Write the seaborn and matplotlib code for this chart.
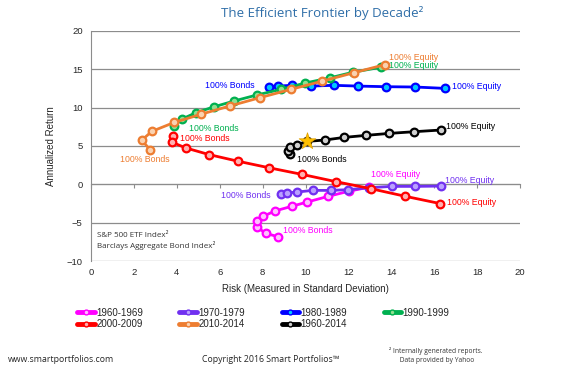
import matplotlib
matplotlib.use("Agg")
import matplotlib.pyplot as plt
import seaborn as sns

# risk (std dev) and annualized return, from 100% bonds to 100% equity
risk_1960s = [8.7, 8.14, 7.72, 7.72, 8.03, 8.58, 9.36, 10.08, 11.06, 12.0, 12.97]
ret_1960s = [-6.8, -6.38, -5.52, -4.79, -4.14, -3.45, -2.85, -2.29, -1.55, -0.9, -0.35]

risk_1970s = [8.84, 9.12, 9.59, 10.33, 11.17, 11.97, 12.97, 14.02, 15.1, 16.32]
ret_1970s = [-1.29, -1.12, -1.0, -0.78, -0.78, -0.69, -0.43, -0.26, -0.26, -0.22]

risk_1980s = [8.3, 8.7, 9.36, 10.24, 11.3, 12.46, 13.75, 15.1, 16.5]
ret_1980s = [12.68, 12.8, 12.9, 12.8, 12.9, 12.8, 12.72, 12.68, 12.5]

risk_1990s = [3.88, 4.23, 4.9, 5.73, 6.68, 7.72, 8.86, 9.98, 11.14, 12.2, 13.52]
ret_1990s = [7.63, 8.5, 9.35, 10.1, 10.87, 11.64, 12.38, 13.2, 13.88, 14.6, 15.26]

risk_2000s = [3.84, 3.79, 4.41, 5.5, 6.84, 8.3, 9.85, 11.42, 13.04, 14.64, 16.27]
ret_2000s = [6.34, 5.47, 4.75, 3.88, 3.02, 2.16, 1.29, 0.35, -0.56, -1.55, -2.5]

risk_2010s = [2.75, 2.36, 2.83, 3.87, 5.13, 6.48, 7.88, 9.32, 10.78, 12.23, 13.7]
ret_2010s = [4.53, 5.75, 6.9, 8.06, 9.14, 10.22, 11.3, 12.38, 13.45, 14.53, 15.6]

risk_all = [9.28, 9.17, 9.25, 9.59, 10.08, 10.9, 11.8, 12.8, 13.9, 15.06, 16.3]
ret_all = [3.97, 4.4, 4.83, 5.17, 5.6, 5.78, 6.12, 6.38, 6.64, 6.86, 7.08]

star_risk = [10.08]
star_ret = [5.6]

series = [
    ("1960-1969", risk_1960s, ret_1960s, "#ff00ff", "#ffc0ff"),
    ("1970-1979", risk_1970s, ret_1970s, "#7030f0", "#b9a0ff"),
    ("1980-1989", risk_1980s, ret_1980s, "#0000ff", "#00c8ff"),
    ("1990-1999", risk_1990s, ret_1990s, "#00b050", "#90e090"),
    ("2000-2009", risk_2000s, ret_2000s, "#ff0000", "#ffb0b0"),
    ("2010-2014", risk_2010s, ret_2010s, "#ed7d31", "#fad2b0"),
    ("1960-2014", risk_all, ret_all, "#000000", "#d0d0d0"),
]

# label text, x, y, colour, alignment
labels = [
    ("100% Equity", 13.9, 16.5, "#ed7d31", "left"),
    ("100% Equity", 13.9, 15.5, "#00b050", "left"),
    ("100% Bonds", 7.6, 12.9, "#0000ff", "right"),
    ("100% Equity", 16.8, 12.7, "#0000ff", "left"),
    ("100% Bonds", 4.55, 7.3, "#00b050", "left"),
    ("100% Bonds", 4.15, 6.0, "#ff0000", "left"),
    ("100% Bonds", 1.35, 3.2, "#ed7d31", "left"),
    ("100% Bonds", 9.6, 3.3, "#000000", "left"),
    ("100% Equity", 16.55, 7.5, "#000000", "left"),
    ("100% Bonds", 8.35, -1.5, "#7030f0", "right"),
    ("100% Equity", 16.5, 0.5, "#7030f0", "left"),
    ("100% Equity", 16.6, -2.3, "#ff0000", "left"),
    ("100% Bonds", 8.95, -5.95, "#ff00ff", "left"),
    ("100% Equity", 13.05, 1.3, "#ff00ff", "left"),
]

sns.set_style("white")
plt.rcParams["font.family"] = ["Liberation Sans", "DejaVu Sans"]

fig = plt.figure(figsize=(5.8, 3.71), dpi=100)
ax = fig.add_axes([0.157, 0.296, 0.740, 0.621])

handles = []
for name, xs, ys, col, fill in series:
    sns.lineplot(x=xs, y=ys, sort=False, estimator=None, ax=ax, color=col,
                 lw=2, marker="o", ms=5.5, mfc=fill, mec=col, mew=1.6,
                 legend=False)
    handles.append(ax.lines[-1])

ax.scatter(star_risk, star_ret, marker="*", s=160, color="#ffc000",
           edgecolor="#e0a000", linewidth=0.5, zorder=5)

for txt, x, y, col, ha in labels:
    ax.text(x, y, txt, color=col, fontsize=6.3, ha=ha, va="center")

ax.text(0.3, -6.6, "S&P 500 ETF Index\u00b2", fontsize=5.8, color="#333333",
        family=["Open Sans", "DejaVu Sans"], va="center")
ax.text(0.3, -8.0, "Barclays Aggregate Bond Index\u00b2", fontsize=5.8,
        color="#333333", family=["Open Sans", "DejaVu Sans"], va="center")

ax.set_xlim(0, 20)
ax.set_ylim(-10, 20)
ax.set_xticks(range(0, 21, 2))
ax.set_yticks(range(-10, 21, 5))
ax.yaxis.grid(True, color="#8c8c8c", lw=0.9)
ax.set_axisbelow(True)
for s in ["top", "right", "bottom"]:
    ax.spines[s].set_visible(False)
ax.spines["left"].set_color("#8c8c8c")
ax.tick_params(axis="y", length=4, color="#8c8c8c", labelsize=6.8, pad=2)
ax.tick_params(axis="x", length=0, labelsize=6.8, pad=5)

# horizontal axis line with tick marks at zero return
sec = ax.secondary_xaxis(1 / 3)
sec.set_xticks(range(0, 21, 2))
sec.tick_params(axis="x", length=3, color="#8c8c8c", labelbottom=False)
sec.spines["bottom"].set_color("#8c8c8c")

ax.set_xlabel("Risk (Measured in Standard Deviation)", fontsize=7, labelpad=5)
ax.set_ylabel("Annualized Return", fontsize=7, labelpad=8)

fig.text(0.555, 0.965, "The Efficient Frontier by Decade\u00b2", ha="center",
         va="center", fontsize=9.5, color="#2f6ea8",
         family=["Open Sans", "DejaVu Sans"])

order = [0, 4, 1, 5, 2, 6, 3]
leg = fig.legend([handles[i] for i in order], [series[i][0] for i in order],
                 ncol=4, loc="center left", bbox_to_anchor=(0.118, 0.142),
                 frameon=False, fontsize=7, handlelength=1.8,
                 handletextpad=0.15, columnspacing=3.75, labelspacing=0.15)
for h in leg.legend_handles:
    h.set_linewidth(3.5)
    h.set_markersize(3.5)
    h.set_markeredgewidth(1.0)

fig.text(0.014, 0.03, "www.smartportfolios.com", fontsize=6.3,
         family=["Open Sans", "DejaVu Sans"], va="center")
fig.text(0.466, 0.03, "Copyright 2016 Smart Portfolios\u2122", fontsize=6.3,
         family=["Open Sans", "DejaVu Sans"], ha="center", va="center")
fig.text(0.752, 0.042, "\u00b2 Internally generated reports.\n Data provided by Yahoo",
         fontsize=4.8, family=["Open Sans", "DejaVu Sans"], ha="center",
         va="center", linespacing=1.5, color="#333333")

fig.savefig("out.png", dpi=100)
plt.close(fig)
